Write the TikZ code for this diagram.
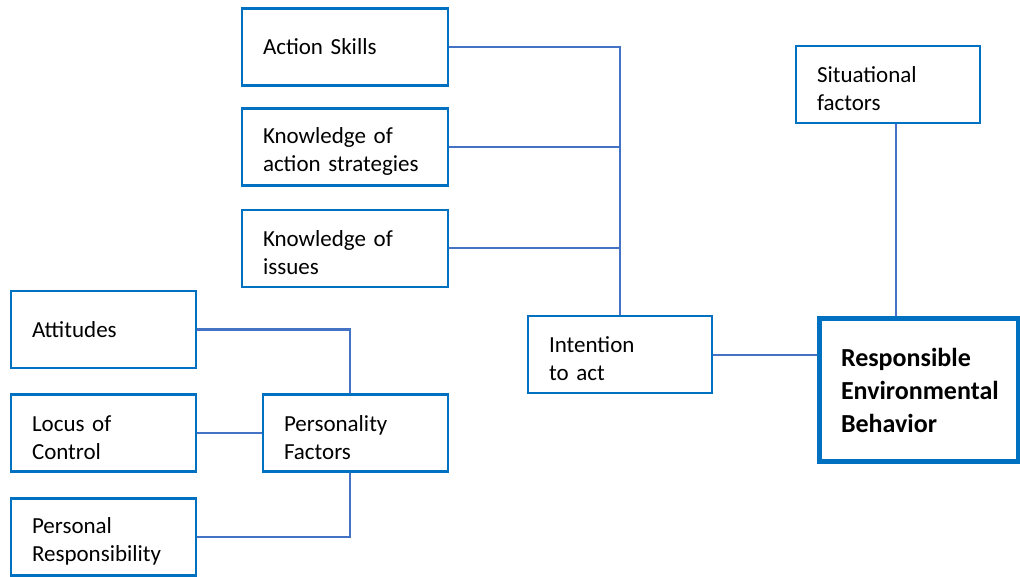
\documentclass[tikz,border=0pt]{standalone}
\usepackage{fontspec}
\setmainfont{Carlito}
\usetikzlibrary{calc}

\definecolor{boxblue}{RGB}{0,112,192}
\definecolor{linkblue}{RGB}{68,114,196}

\begin{document}
\begin{tikzpicture}[x=1pt,y=-1pt,
    factor/.style={draw=boxblue,line width=2.2pt,rectangle,inner xsep=21pt,inner ysep=0pt,
      minimum height=77pt,text width=#1,align=left,font=\fontsize{23}{28}\selectfont},
    twolines/.style={execute at begin node={\rule{0pt}{25pt}}},
    link/.style={draw=linkblue,line width=2pt}]
      \useasboundingbox (0,0) rectangle (1020,577);
      % knowledge and skills
      \node[factor=164pt] (skills) at (345,47) {Action Skills};
      \node[factor=164pt,twolines] (strategies) at (345,147) {Knowledge of\\action~strategies};
      \node[factor=164pt,twolines] (issues) at (345,248.5) {Knowledge of\\issues};
      \node[factor=142pt,twolines] (intention) at (620,354.5) {Intention\\to act};
      \node[factor=142pt,twolines] (situation) at (888,84.5) {Situational\\factors};
      % personality
      \node[factor=143pt] (attitudes) at (103.5,329.5) {Attitudes};
      \node[factor=143pt,twolines] (locus) at (103.5,433) {Locus of\\Control};
      \node[factor=143pt,twolines] (responsibility) at (103.5,537) {Personal\\Responsibility};
      \node[factor=143pt,twolines] (personality) at (355.5,433) {Personality\\Factors};
      \node[factor=155pt,line width=5pt,minimum height=142pt,inner xsep=22pt,
        font=\bfseries\fontsize{26}{33}\selectfont] (behavior) at (918.5,390)
        {Responsible\\Environmental\\Behavior};
      \draw[link] (skills.east) -| (intention.north);
      \draw[link] (strategies.east) -- (strategies.east -| intention.north);
      \draw[link] (issues.east) -- (issues.east -| intention.north);
      \draw[link] (intention.east) -- (intention.east -| behavior.west);
      \draw[link] ([xshift=8pt]situation.south) -- ([xshift=8pt]situation.south |- behavior.north);
      \draw[link] (attitudes.east) -| ([xshift=-6pt]personality.north);
      \draw[link] (locus.east) -- (personality.west);
      \draw[link] (responsibility.east) -| ([xshift=-6pt]personality.south);
    \end{tikzpicture}
\end{document}
